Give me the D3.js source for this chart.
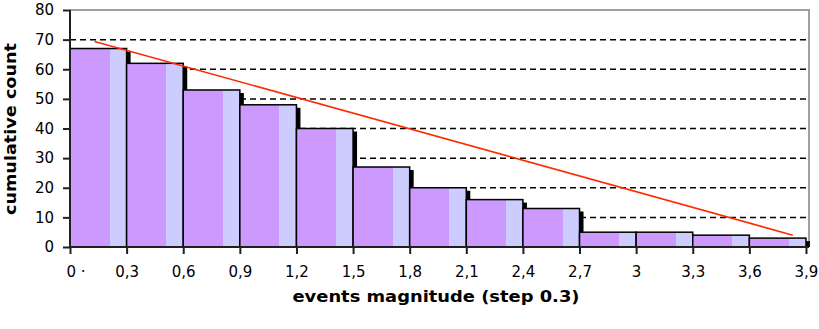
<!DOCTYPE html>
<html>
<head>
<meta charset="utf-8">
<script src="https://cdn.jsdelivr.net/npm/d3@7"></script>
<style>
    body { margin: 0; background: #fff; }
    text { font-family: "DejaVu Sans", sans-serif; }
</style>
</head>
<body>
<div id="cumulative-chart"></div>
<script>
// bins of the events magnitude (lower edge) and cumulative counts
var vBinStarts = [0, 0.3, 0.6, 0.9, 1.2, 1.5, 1.8, 2.1, 2.4, 2.7, 3.0, 3.3, 3.6];
var vCounts = [67, 62, 53, 48, 40, 27, 20, 16, 13, 5, 5, 4, 3];
var vBinWidth = 0.3;

// tick values and their labels (comma decimals, as in the original)
var vXTicks = [0, 0.3, 0.6, 0.9, 1.2, 1.5, 1.8, 2.1, 2.4, 2.7, 3.0, 3.3, 3.6, 3.9];
var vXLabels = ["0 \u00b7", "0,3", "0,6", "0,9", "1,2", "1,5", "1,8", "2,1", "2,4", "2,7", "3", "3,3", "3,6", "3,9"];
var vYTicks = [0, 10, 20, 30, 40, 50, 60, 70, 80];

// red trend line, two end points (magnitude, count)
var vTrendX = [0.13, 3.83];
var vTrendY = [69.4, 4.0];

var vWidth = 819, vHeight = 329;
var vPlot = { mLeft: 70, mRight: 809, mTop: 10, mBottom: 247 };

var svg = d3.select("#cumulative-chart")
    .append("svg")
    .attr("width", vWidth)
    .attr("height", vHeight);

var vX = d3.scaleLinear()
    .domain([0, 3.916])
    .range([vPlot.mLeft, vPlot.mRight]);

var vY = d3.scaleLinear()
    .domain([0, 80])
    .range([vPlot.mBottom, vPlot.mTop]);

// two tone fill of every bar
var vGrad = svg.append("defs").append("linearGradient")
    .attr("id", "bar-fill")
    .attr("x1", "0").attr("x2", "1").attr("y1", "0").attr("y2", "0");
vGrad.append("stop").attr("offset", "0.70").attr("stop-color", "#cc99ff");
vGrad.append("stop").attr("offset", "0.70").attr("stop-color", "#ccccff");

// plot frame: grey top and right border
svg.append("path")
    .attr("d", "M" + vPlot.mLeft + "," + vY(80) + "H" + vPlot.mRight + "V" + vPlot.mBottom)
    .attr("fill", "none")
    .attr("stroke", "#a0a0a0")
    .attr("stroke-width", 2);

// dashed gridlines
svg.append("g")
    .selectAll("line")
    .data(vYTicks.filter(function (aVal) { return aVal > 0 && aVal < 80; }))
    .enter()
    .append("line")
    .attr("x1", vPlot.mLeft)
    .attr("x2", vPlot.mRight)
    .attr("y1", function (aVal) { return vY(aVal); })
    .attr("y2", function (aVal) { return vY(aVal); })
    .attr("stroke", "#000")
    .attr("stroke-width", 1.5)
    .attr("stroke-dasharray", "6,4");

var vBars = vBinStarts.map(function (aStart, aIdx) {
    return { start: aStart, count: vCounts[aIdx] };
});

// bars with a small black drop shadow
var vBarG = svg.append("g");
vBars.forEach(function (aItem) {
    var vX0 = vX(aItem.start), vX1 = vX(aItem.start + vBinWidth);
    vBarG.append("rect")
        .attr("x", vX0 + 4)
        .attr("y", vY(aItem.count) + 3)
        .attr("width", vX1 - vX0)
        .attr("height", vY(0) - vY(aItem.count) - 3)
        .attr("fill", "#000");
    vBarG.append("rect")
        .attr("x", vX0)
        .attr("y", vY(aItem.count))
        .attr("width", vX1 - vX0)
        .attr("height", vY(0) - vY(aItem.count))
        .attr("fill", "url(#bar-fill)")
        .attr("stroke", "#000")
        .attr("stroke-width", 1.5);
});

// trend line
svg.append("line")
    .attr("x1", vX(vTrendX[0]))
    .attr("y1", vY(vTrendY[0]))
    .attr("x2", vX(vTrendX[1]))
    .attr("y2", vY(vTrendY[1]))
    .attr("stroke", "#ff2a00")
    .attr("stroke-width", 1.6);

// axes
var vYAxis = svg.append("g")
    .attr("transform", "translate(" + vPlot.mLeft + ",0)")
    .call(d3.axisLeft(vY).tickValues(vYTicks).tickSize(7).tickPadding(9).tickSizeOuter(0));

var vXAxis = svg.append("g")
    .attr("transform", "translate(0," + vPlot.mBottom + ")")
    .call(d3.axisBottom(vX)
        .tickValues(vXTicks)
        .tickFormat(function (aVal, aIdx) { return vXLabels[aIdx]; })
        .tickSize(7).tickPadding(12).tickSizeOuter(0));

[vYAxis, vXAxis].forEach(function (aAxis) {
    aAxis.select(".domain").attr("stroke", "#202020").attr("stroke-width", 2);
    aAxis.selectAll(".tick line").attr("stroke", "#202020").attr("stroke-width", 2);
    aAxis.selectAll(".tick text")
        .attr("fill", "#000")
        .style("font-size", "15px")
        .style("font-family", "'DejaVu Sans', sans-serif");
});
vYAxis.select(".domain").attr("d", "M0," + vPlot.mTop + "V" + vPlot.mBottom);
vXAxis.select(".domain").attr("d", "M" + vPlot.mLeft + ",0H" + vPlot.mRight);

// first label sits a bit to the right of its tick
vXAxis.selectAll(".tick text")
    .filter(function (aVal, aIdx) { return aIdx === 0; })
    .attr("text-anchor", "start")
    .attr("dx", "-4");

// axis titles
svg.append("text")
    .attr("x", 436)
    .attr("y", 302)
    .attr("text-anchor", "middle")
    .attr("textLength", 287)
    .attr("lengthAdjust", "spacingAndGlyphs")
    .style("font-size", "15px")
    .style("font-weight", "bold")
    .text("events magnitude (step 0.3)");

svg.append("text")
    .attr("transform", "translate(16,129) rotate(-90)")
    .attr("text-anchor", "middle")
    .attr("textLength", 172)
    .attr("lengthAdjust", "spacingAndGlyphs")
    .style("font-size", "15px")
    .style("font-weight", "bold")
    .text("cumulative count");
</script>
</body>
</html>
